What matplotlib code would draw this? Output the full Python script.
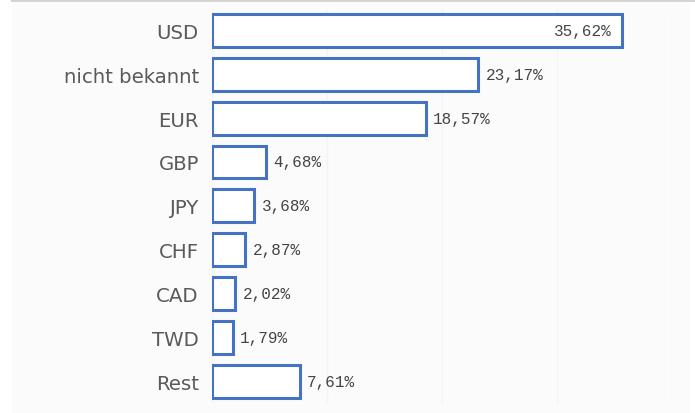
import matplotlib
matplotlib.use("Agg")
import matplotlib.pyplot as plt
from matplotlib.patches import Rectangle
from matplotlib.lines import Line2D

categories = ["USD", "nicht bekannt", "EUR", "GBP", "JPY", "CHF", "CAD", "TWD", "Rest"]
values = [35.62, 23.17, 18.57, 4.68, 3.68, 2.87, 2.02, 1.79, 7.61]

fig = plt.figure(figsize=(6.95, 4.14), dpi=100, facecolor="white")
# light panel
fig.patches.append(Rectangle((12/695, 0), (690-12)/695, (414-5)/414, transform=fig.transFigure,
                             facecolor="#fbfbfb", edgecolor="none", zorder=-2))
fig.lines.append(Line2D([12/695, 1], [1-2/414, 1-2/414], transform=fig.transFigure,
                        color="#d4d4d4", lw=1.5, zorder=-1))

ax = fig.add_axes([212/695, 10/414, (672-212)/695, (404-9.6)/414])
ax.set_zorder(2)
ax.set_facecolor("none")
y = list(range(len(categories)))
ax.barh(y, values, height=0.75, facecolor="white", edgecolor="#4472c4", linewidth=2.2, zorder=3)
ax.set_xlim(0, 40)
ax.set_ylim(len(categories) - 0.5, -0.5)
ax.set_xticks([0, 10, 20, 30, 40])
ax.xaxis.grid(True, color="#f4f4f4", lw=1, zorder=0)
ax.set_axisbelow(True)
ax.tick_params(axis="x", length=0, labelbottom=False)
ax.tick_params(axis="y", length=0, pad=9.5)
ax.set_yticks(y)
ax.set_yticklabels(categories, fontsize=14.2, color="#5a5a5a", fontfamily="DejaVu Sans")
for s in ax.spines.values():
    s.set_visible(False)

for yi, v in zip(y, values):
    txt = f"{v:.2f}".replace(".", ",") + "%"
    if v > 30:
        ax.annotate(txt, (v, yi), xytext=(-7, 0), textcoords="offset points", ha="right", va="center",
                    fontsize=11.5, color="#444444", fontfamily="Liberation Mono", zorder=5)
    else:
        ax.annotate(txt, (v, yi), xytext=(5.5, 0), textcoords="offset points", ha="left", va="center",
                    fontsize=11.5, color="#444444", fontfamily="Liberation Mono", zorder=5)

fig.savefig("out.png", dpi=100, facecolor="white")
